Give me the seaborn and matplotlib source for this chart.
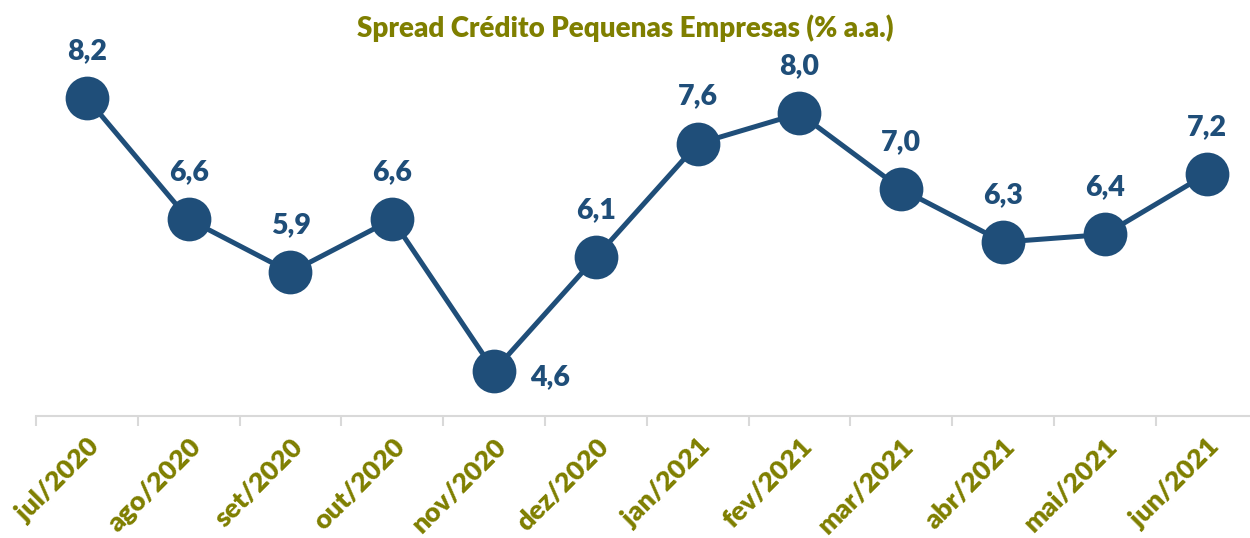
import numpy as np
import pandas as pd
import matplotlib
matplotlib.use("Agg")
import matplotlib.pyplot as plt
import seaborn as sns

months = ["jul/2020", "ago/2020", "set/2020", "out/2020", "nov/2020", "dez/2020",
          "jan/2021", "fev/2021", "mar/2021", "abr/2021", "mai/2021", "jun/2021"]
spread = [8.2, 6.6, 5.9, 6.6, 4.6, 6.1, 7.6, 8.0, 7.0, 6.3, 6.4, 7.2]
title = "Spread Crédito Pequenas Empresas (% a.a.)"

sns.set_theme(style="white")
plt.rcParams["font.family"] = ["Lato", "DejaVu Sans"]

blue = "#1F4E79"
olive = "#7F7F00"

df = pd.DataFrame({"mes": months, "spread": spread})

W, H = 1250, 538
step = 101.8
left_px = 36
fig = plt.figure(figsize=(12.5, 5.38), dpi=100)
ax = fig.add_axes([left_px / W, (H - 416) / H, 12 * step / W, 416 / H])

sns.lineplot(data=df, x="mes", y="spread", sort=False, ax=ax, color=blue,
             linewidth=3.6, marker="o", markersize=31.5, markeredgewidth=0,
             markerfacecolor=blue, clip_on=False)

for i, v in enumerate(spread):
    lbl = f"{v:.1f}".replace(".", ",")
    if months[i] == "nov/2020":
        ax.annotate(lbl, (i, v), xytext=(40, -5), textcoords="offset points",
                    ha="center", va="center", fontsize=20.5, fontweight="heavy", color=blue)
    else:
        ax.annotate(lbl, (i, v), xytext=(0, 34), textcoords="offset points",
                    ha="center", va="center", fontsize=20.5, fontweight="heavy", color=blue)

ax.set_xlim(-0.5, len(months) - 0.5)
ax.set_ylim(4.0, 9.5)
ax.set_xlabel("")
ax.set_ylabel("")
ax.set_yticks([])
ax.set_xticks(range(len(months)))
ax.set_xticklabels(months, rotation=45, ha="right", rotation_mode="anchor",
                   fontsize=19.5, fontweight="heavy", color=olive)
ax.set_xticks(np.arange(-0.5, len(months), 1), minor=True)
ax.tick_params(axis="x", which="major", length=0, pad=13)
ax.tick_params(axis="x", which="minor", length=7, width=1.5, color="#D9D9D9", bottom=True)
for s in ["top", "right", "left"]:
    ax.spines[s].set_visible(False)
ax.spines["bottom"].set_color("#D9D9D9")
ax.spines["bottom"].set_linewidth(1.5)
ax.grid(False)

fig.text(0.5, 1 - 28 / H, title, ha="center", va="center", fontsize=20,
         fontweight="heavy", color=olive)

fig.savefig("out.png", dpi=100)
